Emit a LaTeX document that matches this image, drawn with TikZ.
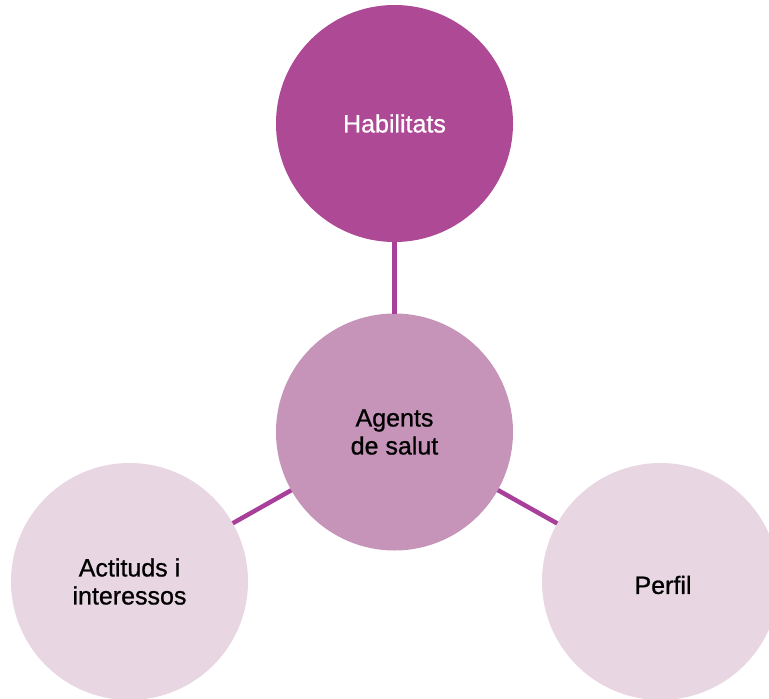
\documentclass[tikz,border=0pt]{standalone}
\usepackage{fontspec}
\setmainfont{Liberation Sans}
\newfontfamily\medfont{Liberation Sans}[FakeBold=0.8]
\definecolor{cTop}{HTML}{AE4A95}
\definecolor{cMid}{HTML}{C594B8}
\definecolor{cOut}{HTML}{E8D6E3}
\definecolor{cLine}{HTML}{A8409B}
\begin{document}
\begin{tikzpicture}[x=1pt,y=-1pt,
  lbl/.style={font=\medfont\fontsize{25}{28}\selectfont,align=center},
  bubble/.style={circle,minimum size=237pt,inner sep=0pt,outer sep=0pt,lbl},
  link/.style={draw=cLine,line width=4.5pt}]
\useasboundingbox (0,0) rectangle (769,699);
\clip (0,0) rectangle (769,699);
\node[bubble,fill=cTop,text=white] (hab) at (394.5,123.5) {Habilitats};
\node[bubble,fill=cMid] (ag) at (394.5,432) {Agents\\de salut};
\node[bubble,fill=cOut] (act) at (129.5,581.5) {Actituds i\\interessos};
\node[bubble,fill=cOut] (per) at (660.5,581.5) {};
\node[lbl] (pert) at (663,585) {Perfil};
\draw[link] (ag) -- (hab);
\draw[link] (ag) -- (act);
\draw[link] (ag) -- (per);
\end{tikzpicture}
\end{document}
